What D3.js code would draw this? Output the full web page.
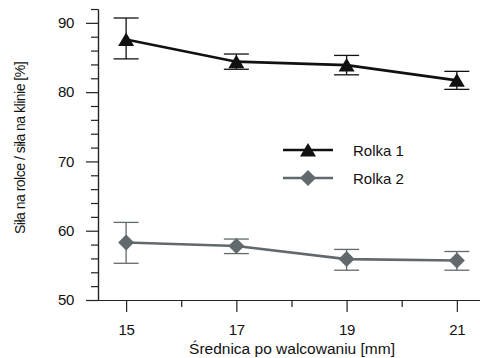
<!DOCTYPE html>
<html lang="pl">
<head>
<meta charset="utf-8">
<title>Siła na rolce</title>
<script src="https://cdn.jsdelivr.net/npm/d3@7"></script>
<style>
  body { margin: 0; background: #fff; }
  text { font-family: "Liberation Sans", Arial, sans-serif; fill: #111; }
  .axis path, .axis line { stroke: #222; stroke-width: 1.2px; }
  .axis text { font-size: 15px; letter-spacing: -0.3px; }
</style>
</head>
<body>
<div id="chart"></div>
<script>
var diameters = [15, 17, 19, 21];
var rolka1 = [87.6, 84.4, 83.9, 81.7];
var rolka1Lo = [84.8, 83.3, 82.5, 80.4];
var rolka1Hi = [90.7, 85.5, 85.3, 83.0];
var rolka2 = [58.3, 57.8, 55.9, 55.7];
var rolka2Lo = [55.3, 56.7, 54.3, 54.3];
var rolka2Hi = [61.2, 58.8, 57.3, 57.0];
var seriesNames = ["Rolka 1", "Rolka 2"];
var xTicks = [15, 17, 19, 21];
var yTicks = [50, 60, 70, 80, 90];

var width = 480, height = 358;

var svg = d3.select("#chart").append("svg")
    .attr("width", width)
    .attr("height", height);

var x = d3.scaleLinear().domain([14.49, 21.42]).range([98, 480]);
var y = d3.scaleLinear().domain([50, 92]).range([300, 9]);

// minor ticks
svg.append("g")
    .attr("class", "axis")
    .attr("transform", "translate(0,300)")
    .call(d3.axisBottom(x).tickValues([16, 18, 20]).tickSize(7).tickSizeOuter(0).tickFormat(""));
svg.append("g")
    .attr("class", "axis")
    .attr("transform", "translate(98,0)")
    .call(d3.axisLeft(y).tickValues(d3.range(52, 93, 2).filter(function(v) { return v % 10 != 0; }))
      .tickSize(7).tickSizeOuter(0).tickFormat(""));

// major ticks
svg.append("g")
    .attr("class", "axis")
    .attr("transform", "translate(0,300)")
    .call(d3.axisBottom(x).tickValues(xTicks).tickSize(12).tickSizeOuter(0)
      .tickPadding(9).tickFormat(d3.format("d")))
  .selectAll("text").attr("dy", "0.95em");
svg.append("g")
    .attr("class", "axis")
    .attr("transform", "translate(98,0)")
    .call(d3.axisLeft(y).tickValues(yTicks).tickSize(12).tickSizeOuter(0).tickPadding(12));

svg.append("text")
    .attr("x", 292)
    .attr("y", 354)
    .attr("text-anchor", "middle")
    .style("font-size", "15.5px")
    .text("Średnica po walcowaniu [mm]");

svg.append("text")
    .attr("transform", "translate(25,148) rotate(-90)")
    .attr("text-anchor", "middle")
    .style("font-size", "14px")
    .style("letter-spacing", "-0.5px")
    .text("Siła na rolce / siła na klinie [%]");

var triangle = "M0,-7L8,6.5L-8,6.5Z";
var diamond = "M0,-8L8,0L0,8L-8,0Z";

var series = [
  {name: seriesNames[0], v: rolka1, lo: rolka1Lo, hi: rolka1Hi, color: "#111", shape: triangle},
  {name: seriesNames[1], v: rolka2, lo: rolka2Lo, hi: rolka2Hi, color: "#62696c", shape: diamond}
];

var line = d3.line()
    .x(function(d) { return x(d.x); })
    .y(function(d) { return y(d.y); });

series.forEach(function(s, si) {
  var pts = diameters.map(function(d, i) {
    return {x: d, y: s.v[i], lo: s.lo[i], hi: s.hi[i]};
  });
  var g = svg.append("g");

  var eb = g.selectAll(".err").data(pts).enter().append("g")
      .attr("stroke", s.color)
      .attr("stroke-width", 1.3);
  eb.append("line")
      .attr("x1", function(d) { return x(d.x); })
      .attr("x2", function(d) { return x(d.x); })
      .attr("y1", function(d) { return y(d.lo); })
      .attr("y2", function(d) { return y(d.hi); });
  eb.append("line")
      .attr("x1", function(d) { return x(d.x) - 12.5; })
      .attr("x2", function(d) { return x(d.x) + 12.5; })
      .attr("y1", function(d) { return y(d.lo); })
      .attr("y2", function(d) { return y(d.lo); });
  eb.append("line")
      .attr("x1", function(d) { return x(d.x) - 12.5; })
      .attr("x2", function(d) { return x(d.x) + 12.5; })
      .attr("y1", function(d) { return y(d.hi); })
      .attr("y2", function(d) { return y(d.hi); });

  g.append("path")
      .datum(pts)
      .attr("fill", "none")
      .attr("stroke", s.color)
      .attr("stroke-width", 2.6)
      .attr("d", line);

  g.selectAll(".mark").data(pts).enter().append("path")
      .attr("transform", function(d) { return "translate(" + x(d.x) + "," + y(d.y) + ")"; })
      .attr("d", s.shape)
      .attr("fill", s.color);

  // legend
  var ly = 150 + si * 28;
  var lg = svg.append("g").attr("transform", "translate(283," + ly + ")");
  lg.append("line")
      .attr("x1", 0).attr("x2", 50)
      .attr("stroke", s.color)
      .attr("stroke-width", 2.6);
  lg.append("path")
      .attr("transform", "translate(25,0)")
      .attr("d", s.shape)
      .attr("fill", s.color);
  lg.append("text")
      .attr("x", 70)
      .attr("y", 5.5)
      .style("font-size", "15px")
      .text(s.name);
});
</script>
</body>
</html>
